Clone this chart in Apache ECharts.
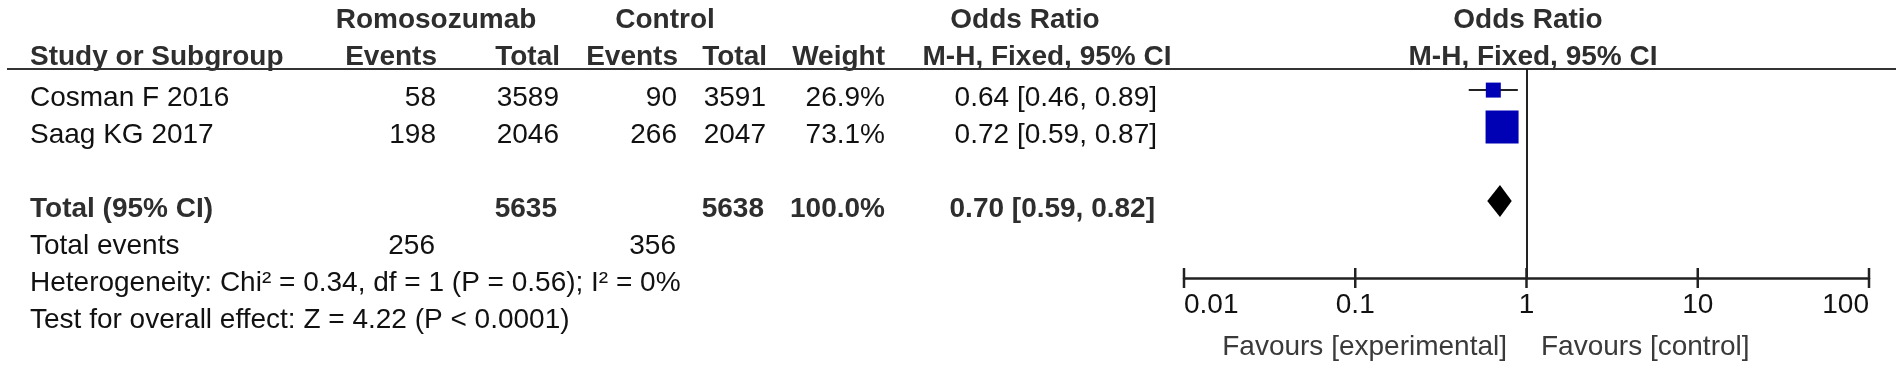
<!DOCTYPE html>
<html>
<head>
<meta charset="utf-8">
<script src="https://cdn.jsdelivr.net/npm/echarts@6/dist/echarts.min.js"></script>
<style>
html,body{margin:0;padding:0;background:#fff;}
#c{width:1902px;height:365px;}
</style>
</head>
<body>
<div id="c"></div>
<script>
// ---------------- data ----------------
const studies   = ['Cosman F 2016', 'Saag KG 2017'];
const romEvents = [58, 198];
const romTotal  = [3589, 2046];
const ctlEvents = [90, 266];
const ctlTotal  = [3591, 2047];
const weights   = [26.9, 73.1];
const orValues  = [0.64, 0.72];
const ciLower   = [0.46, 0.59];
const ciUpper   = [0.89, 0.87];

const pooledTotals = [5635, 5638];     // Romosozumab, Control
const pooledWeight = 100.0;
const pooledOR     = [0.70, 0.59, 0.82]; // estimate, lower, upper
const totalEvents  = [256, 356];        // Romosozumab, Control

const heterogeneityText = 'Heterogeneity: Chi\u00B2 = 0.34, df = 1 (P = 0.56); I\u00B2 = 0%';
const overallText       = 'Test for overall effect: Z = 4.22 (P < 0.0001)';

const tickValues = [0.01, 0.1, 1, 10, 100];
const tickLabels = ['0.01', '0.1', '1', '10', '100'];
const favoursLeft  = 'Favours [experimental]';
const favoursRight = 'Favours [control]';

// ---------------- layout ----------------
const FONT = '"Liberation Sans", Arial, Helvetica, sans-serif';
const FS = 28;
const C_BOLD = '#2e2e2e', C_REG = '#111111';
const X = { label: 30, romEv: 436, romTot: 559, ctlEv: 677, ctlTot: 766, weight: 885, or: 1157 };
const Y = { h1: 20, h2: 57, study: [98, 135], total: 209, events: 246, het: 283, test: 320 };
const studyRow = [0, 1], pooledRow = 3;
const Y_MIN = -0.57, Y_MAX = 5.08;

function txt(str, x, y, align, bold, color) {
  return {
    type: 'text', x: x, y: y, silent: true,
    style: {
      text: String(str), fontSize: FS, fontFamily: FONT, fontWeight: bold ? 'bold' : 'normal',
      fill: color || (bold ? C_BOLD : C_REG),
      align: align, textAlign: align, verticalAlign: 'middle', textVerticalAlign: 'middle'
    }
  };
}
const f2 = v => v.toFixed(2);
const orText = (o, l, u) => f2(o) + ' [' + f2(l) + ', ' + f2(u) + ']';

const g = [];
// headers
g.push(txt('Romosozumab', 436, Y.h1, 'center', true));
g.push(txt('Control', 665, Y.h1, 'center', true));
g.push(txt('Odds Ratio', 1025, Y.h1, 'center', true));
g.push(txt('Odds Ratio', 1528, Y.h1, 'center', true));
g.push(txt('Study or Subgroup', X.label, Y.h2, 'left', true));
g.push(txt('Events', X.romEv + 1, Y.h2, 'right', true));
g.push(txt('Total', X.romTot + 1, Y.h2, 'right', true));
g.push(txt('Events', X.ctlEv + 1, Y.h2, 'right', true));
g.push(txt('Total', X.ctlTot + 1, Y.h2, 'right', true));
g.push(txt('Weight', X.weight, Y.h2, 'right', true));
g.push(txt('M-H, Fixed, 95% CI', 1047, Y.h2, 'center', true));
g.push(txt('M-H, Fixed, 95% CI', 1533, Y.h2, 'center', true));
g.push({ type: 'line', silent: true, shape: { x1: 7, y1: 69, x2: 1896, y2: 69 }, style: { stroke: '#333', lineWidth: 2 } });
// study rows
studies.forEach((s, i) => {
  const y = Y.study[i];
  g.push(txt(s, X.label, y, 'left', false));
  g.push(txt(romEvents[i], X.romEv, y, 'right', false));
  g.push(txt(romTotal[i], X.romTot, y, 'right', false));
  g.push(txt(ctlEvents[i], X.ctlEv, y, 'right', false));
  g.push(txt(ctlTotal[i], X.ctlTot, y, 'right', false));
  g.push(txt(weights[i].toFixed(1) + '%', X.weight, y, 'right', false));
  g.push(txt(orText(orValues[i], ciLower[i], ciUpper[i]), X.or, y, 'right', false));
});
// total row
g.push(txt('Total (95% CI)', X.label, Y.total, 'left', true));
g.push(txt(pooledTotals[0], X.romTot - 2, Y.total, 'right', true));
g.push(txt(pooledTotals[1], X.ctlTot - 2, Y.total, 'right', true));
g.push(txt(pooledWeight.toFixed(1) + '%', X.weight, Y.total, 'right', true));
g.push(txt(orText(pooledOR[0], pooledOR[1], pooledOR[2]), X.or - 2, Y.total, 'right', true));
g.push(txt('Total events', X.label, Y.events, 'left', false));
g.push(txt(totalEvents[0], X.romEv - 1, Y.events, 'right', false));
g.push(txt(totalEvents[1], X.ctlEv - 1, Y.events, 'right', false));
g.push(txt(heterogeneityText, X.label, Y.het, 'left', false));
g.push(txt(overallText, X.label, Y.test, 'left', false));
// favours
g.push(txt(favoursLeft, 1507, 347, 'right', false, '#3a3a3a'));
g.push(txt(favoursRight, 1541, 347, 'left', false, '#3a3a3a'));

const chart = echarts.init(document.getElementById('c'), null, { renderer: 'canvas' });
chart.setOption({
  animation: false,
  backgroundColor: '#ffffff',
  grid: { left: 1184, width: 685, top: 69, height: 209, containLabel: false },
  xAxis: {
    type: 'log', logBase: 10, min: tickValues[0], max: tickValues[tickValues.length - 1],
    position: 'bottom',
    axisLine: { show: true, onZero: false, lineStyle: { color: '#222', width: 2.5 } },
    axisTick: { show: false },
    splitLine: { show: false },
    axisLabel: {
      show: true, fontSize: FS, fontFamily: FONT, color: '#111', margin: 13,
      showMinLabel: true, showMaxLabel: true,
      alignMinLabel: 'left', alignMaxLabel: 'right',
      formatter: function (v) {
        let best = 0;
        tickValues.forEach((t, i) => { if (Math.abs(Math.log10(t) - Math.log10(v)) < Math.abs(Math.log10(tickValues[best]) - Math.log10(v))) best = i; });
        return tickLabels[best];
      }
    }
  },
  yAxis: { type: 'value', inverse: true, min: Y_MIN, max: Y_MAX, show: false, axisLine: { onZero: false } },
  series: [
    {
      type: 'custom', name: 'ticks', silent: true, z: 3,
      data: tickValues.map(v => [v, Y_MAX]),
      encode: { x: 0, y: 1 },
      renderItem: function (params, api) {
        const p = api.coord([api.value(0), api.value(1)]);
        return { type: 'line', shape: { x1: p[0], y1: p[1] - 10, x2: p[0], y2: p[1] + 10 }, style: { stroke: '#222', lineWidth: 2.5 } };
      }
    },
    {
      type: 'custom', name: 'ci', silent: true, z: 2,
      data: studies.map((s, i) => [ciLower[i], ciUpper[i], studyRow[i]]),
      encode: { x: [0, 1], y: 2 },
      renderItem: function (params, api) {
        const a = api.coord([api.value(0), api.value(2)]);
        const b = api.coord([api.value(1), api.value(2)]);
        return { type: 'line', shape: { x1: a[0], y1: a[1], x2: b[0], y2: b[1] }, style: { stroke: '#222', lineWidth: 2 } };
      }
    },
    {
      type: 'scatter', name: 'studies', silent: true, z: 4,
      symbol: 'rect',
      symbolSize: function (val) { return 4.5 + 0.39 * val[2]; },
      itemStyle: { color: '#0000b4', opacity: 1 },
      data: studies.map((s, i) => [orValues[i], studyRow[i], weights[i]]),
      markLine: {
        silent: true, symbol: 'none', animation: false,
        label: { show: false },
        lineStyle: { color: '#222', width: 2, type: 'solid' },
        data: [{ xAxis: 1 }]
      }
    },
    {
      type: 'custom', name: 'pooled', silent: true, z: 4,
      data: [[pooledOR[0], pooledOR[1], pooledOR[2], pooledRow]],
      encode: { x: [0, 1, 2], y: 3 },
      renderItem: function (params, api) {
        const c = api.coord([api.value(0), api.value(3)]);
        const l = api.coord([api.value(1), api.value(3)]);
        const r = api.coord([api.value(2), api.value(3)]);
        const h = 16;
        return { type: 'polygon', shape: { points: [[l[0], c[1]], [c[0], c[1] - h], [r[0], c[1]], [c[0], c[1] + h]] }, style: { fill: '#000' } };
      }
    }
  ],
  graphic: { elements: g }
});
</script>
</body>
</html>
